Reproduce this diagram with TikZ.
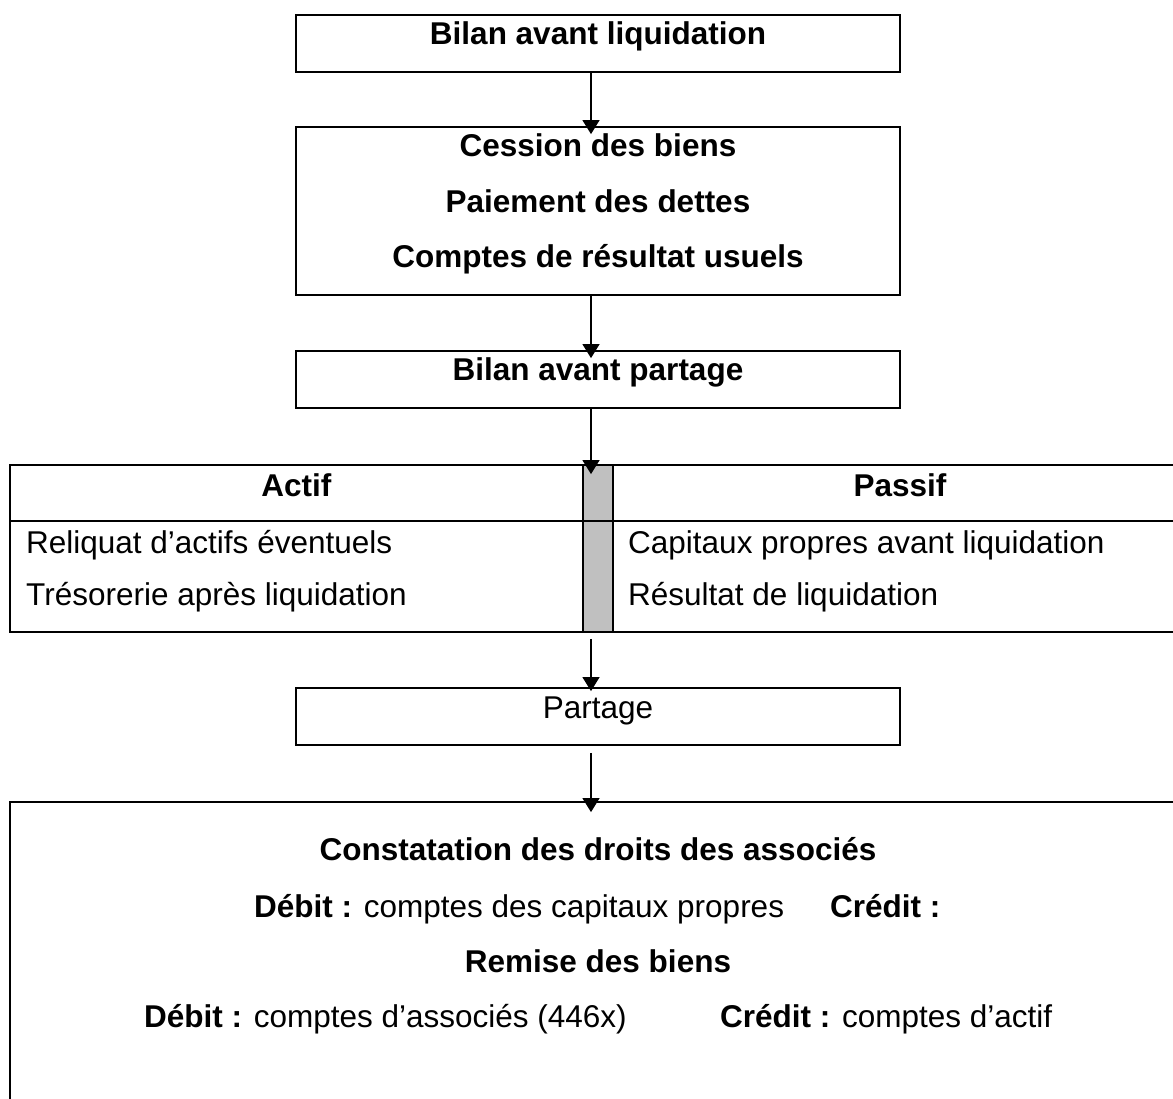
\documentclass[tikz,border=0pt]{standalone}
\usepackage{fontspec}
\setmainfont{Liberation Sans}
\usetikzlibrary{arrows.meta}
\definecolor{greycol}{RGB}{192,192,192}
\begin{document}
\begin{tikzpicture}[x=1pt,y=-1pt,
  every node/.style={font=\fontsize{31.5}{38}\selectfont},
  box/.style={draw, line width=1.8pt, minimum width=604pt, inner sep=0pt},
  txt/.style={inner sep=0pt, anchor=base},
  txtl/.style={inner sep=0pt, anchor=base west},
  arr/.style={-{Triangle[width=17pt,length=14pt]}, line width=1.2pt},
  rule/.style={line width=1.8pt}]
\useasboundingbox (0,0) rectangle (1173,1099);
\clip (0,0) rectangle (1173,1099);

% boxes
\node[box, minimum height=57pt]  (b1) at (598,43.5) {};
\node[box, minimum height=168pt] (b2) at (598,211) {};
\node[box, minimum height=57pt]  (b3) at (598,379.5) {};
\node[box, minimum height=57pt]  (b4) at (598,716.5) {};

% table
\fill[greycol] (583,465) rectangle (613,632);
\node[draw, line width=1.8pt, minimum width=1180pt, minimum height=167pt, inner sep=0pt] (tab) at (600,548.5) {};
\draw[rule] (10,520.7) -- (1190,520.7);
\draw[rule] (583,465) -- (583,632);
\draw[rule] (613,465) -- (613,632);

% big box
\node[draw, line width=1.8pt, minimum width=1180pt, minimum height=318pt, inner sep=0pt] (big) at (600,961) {};

% texts
\node[txt] (t1) at (598,45) {\textbf{Bilan avant liquidation}};
\node[txt] (t2a) at (598,157) {\textbf{Cession des biens}};
\node[txt] (t2b) at (598,212.5) {\textbf{Paiement des dettes}};
\node[txt] (t2c) at (598,268) {\textbf{Comptes de résultat usuels}};
\node[txt] (t3) at (598,381) {\textbf{Bilan avant partage}};

\node[txt] (hA) at (296.5,496) {\textbf{Actif}};
\node[txt] (hP) at (900,496) {\textbf{Passif}};
\node[txtl] (r1) at (26,553) {Reliquat d’actifs éventuels};
\node[txtl] (r2) at (26,605) {Trésorerie après liquidation};
\node[txtl] (r3) at (628,553) {Capitaux propres avant liquidation};
\node[txtl] (r4) at (628,605) {Résultat de liquidation};

\node[txt] (t4) at (598,718) {Partage};

\node[txt] (c1) at (598,860) {\textbf{Constatation des droits des associés}};
\node[txtl] (c2) at (254,917) {\textbf{Débit :} comptes des capitaux propres};
\node[txtl] (c3) at (830,917) {\textbf{Crédit :}};
\node[txt] (c4) at (598,972) {\textbf{Remise des biens}};
\node[txtl] (c5) at (144,1027) {\textbf{Débit :} comptes d’associés (446x)};
\node[txtl] (c6) at (720,1027) {\textbf{Crédit :} comptes d’actif};

% arrows
\draw[arr] ([xshift=-7pt]b1.south) -- ([xshift=-7pt,yshift=-8pt]b2.north);
\draw[arr] ([xshift=-7pt]b2.south) -- ([xshift=-7pt,yshift=-8pt]b3.north);
\draw[arr] ([xshift=-7pt]b3.south) -- ([xshift=-9pt,yshift=-10pt]tab.north);
\draw[arr] ([xshift=-9pt,yshift=-6pt]tab.south) -- ([xshift=-7pt,yshift=-4pt]b4.north);
\draw[arr] ([xshift=-7pt,yshift=-7pt]b4.south) -- ([xshift=-9pt,yshift=-11pt]big.north);
\end{tikzpicture}
\end{document}
